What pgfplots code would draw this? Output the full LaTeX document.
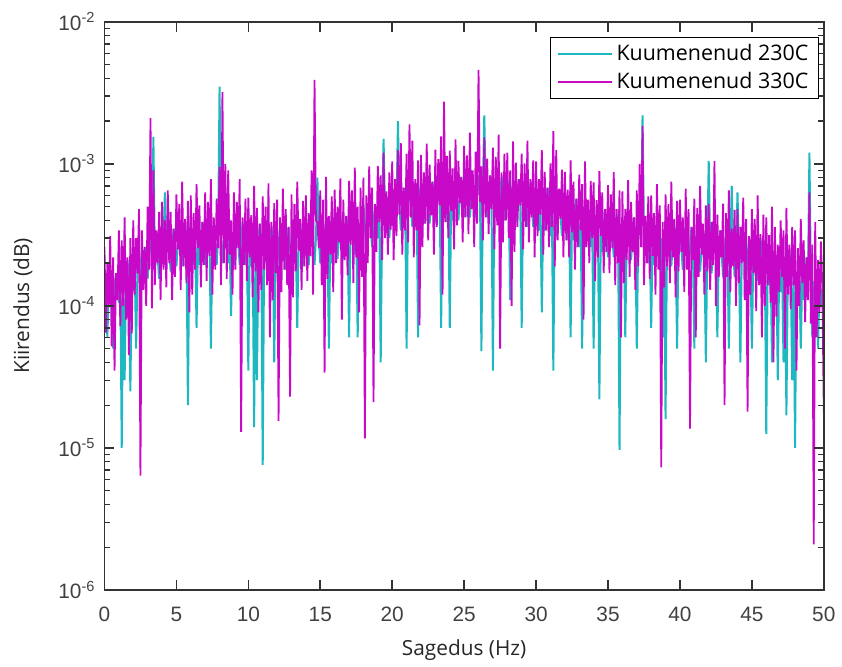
\documentclass[border=0pt]{standalone}
\usepackage{fontspec}
\setmainfont{Open Sans}
\newfontfamily\arialfont{Liberation Sans}
\usepackage{pgfplots}
\usepackage{pgfplotstable}
\pgfplotsset{compat=1.18}
\definecolor{cy}{RGB}{30,185,192}
\definecolor{mg}{RGB}{200,10,200}
\definecolor{axgray}{RGB}{70,70,70}

% Kuumenenud 330C (magenta), step 0.1 Hz
\pgfplotstableread{
x y
0.0 2.6e-4
0.1 0.65e-4
0.2 2.0e-4
0.3 0.98e-4
0.4 3.1e-4
0.5 0.52e-4
0.6 2.2e-4
0.7 0.35e-4
0.8 1.7e-4
0.9 1.1e-4
1.0 3.4e-4
1.1 0.72e-4
1.2 2.9e-4
1.3 1.0e-4
1.4 4.2e-4
1.5 0.8e-4
1.6 2.2e-4
1.7 0.45e-4
1.8 3.0e-4
1.9 0.64e-4
2.0 4.0e-4
2.1 1.2e-4
2.2 3.0e-4
2.3 1.7e-4
2.4 4.8e-4
2.5 0.064e-4
2.6 3.4e-4
2.7 1.3e-4
2.8 2.6e-4
2.9 1.0e-4
3.0 5.0e-4
3.1 1.8e-4
3.2 21e-4
3.3 0.96e-4
3.4 9.0e-4
3.5 1.4e-4
3.6 3.4e-4
3.7 2.0e-4
3.8 4.6e-4
3.9 1.1e-4
4.0 5.4e-4
4.1 1.8e-4
4.2 4.0e-4
4.3 1.35e-4
4.4 6.5e-4
4.5 2.0e-4
4.6 4.6e-4
4.7 1.1e-4
4.8 3.5e-4
4.9 1.6e-4
5.0 6.1e-4
5.1 2.5e-4
5.2 5.2e-4
5.3 1.3e-4
5.4 7.5e-4
5.5 1.9e-4
5.6 4.1e-4
5.7 1.45e-4
5.8 5.5e-4
5.9 0.9e-4
6.0 6.0e-4
6.1 1.2e-4
6.2 4.5e-4
6.3 1.8e-4
6.4 7.2e-4
6.5 2.55e-4
6.6 5.1e-4
6.7 1.35e-4
6.8 3.9e-4
6.9 1.95e-4
7.0 6.3e-4
7.1 1.5e-4
7.2 5.4e-4
7.3 2.25e-4
7.4 7.8e-4
7.5 1.2e-4
7.6 4.2e-4
7.7 1.8e-4
7.8 5.7e-4
7.9 2.55e-4
8.0 9.5e-4
8.1 1.4e-4
8.2 32e-4
8.3 2.0e-4
8.4 10e-4
8.5 1.55e-4
8.6 9.0e-4
8.7 2.3e-4
8.8 4.0e-4
8.9 1.2e-4
9.0 6.3e-4
9.1 1.8e-4
9.2 5.4e-4
9.3 2.55e-4
9.4 7.8e-4
9.5 0.13e-4
9.6 4.2e-4
9.7 1.95e-4
9.8 5.7e-4
9.9 1.5e-4
10.0 5.8e-4
10.1 2.2e-4
10.2 4.35e-4
10.3 1.15e-4
10.4 7.0e-4
10.5 1.75e-4
10.6 4.9e-4
10.7 0.9e-4
10.8 3.8e-4
10.9 1.3e-4
11.0 5.9e-4
11.1 1.8e-4
11.2 5.0e-4
11.3 1.4e-4
11.4 7.3e-4
11.5 0.6e-4
11.6 3.9e-4
11.7 1.1e-4
11.8 5.3e-4
11.9 1.7e-4
12.0 5.6e-4
12.1 0.155e-4
12.2 4.2e-4
12.3 1.25e-4
12.4 6.7e-4
12.5 1.8e-4
12.6 4.8e-4
12.7 1.4e-4
12.8 3.6e-4
12.9 0.23e-4
13.0 6.1e-4
13.1 1.15e-4
13.2 5.2e-4
13.3 1.75e-4
13.4 7.5e-4
13.5 2.45e-4
13.6 4.1e-4
13.7 1.3e-4
13.8 5.5e-4
13.9 1.9e-4
14.0 6.0e-4
14.1 1.5e-4
14.2 4.5e-4
14.3 2.25e-4
14.4 9.0e-4
14.5 1.2e-4
14.6 39e-4
14.7 4.0e-4
14.8 3.9e-4
14.9 2.55e-4
15.0 6.5e-4
15.1 1.4e-4
15.2 5.6e-4
15.3 0.34e-4
15.4 8.1e-4
15.5 1.55e-4
15.6 4.3e-4
15.7 2.3e-4
15.8 5.9e-4
15.9 1.25e-4
16.0 6.6e-4
16.1 2.0e-4
16.2 5.0e-4
16.3 2.8e-4
16.4 7.9e-4
16.5 0.8e-4
16.6 5.6e-4
16.7 2.1e-4
16.8 4.3e-4
16.9 1.65e-4
17.0 7.6e-4
17.1 2.7e-4
17.2 6.5e-4
17.3 1.45e-4
17.4 9.4e-4
17.5 2.2e-4
17.6 5.0e-4
17.7 0.9e-4
17.8 6.8e-4
17.9 1.6e-4
18.0 8.0e-4
18.1 0.117e-4
18.2 6.0e-4
18.3 2.0e-4
18.4 9.6e-4
18.5 3.0e-4
18.6 6.8e-4
18.7 0.21e-4
18.8 5.2e-4
18.9 2.4e-4
19.0 9.7e-4
19.1 3.9e-4
19.2 8.3e-4
19.3 2.1e-4
19.4 12e-4
19.5 3.0e-4
19.6 6.4e-4
19.7 2.3e-4
19.8 8.7e-4
19.9 3.45e-4
20.0 10.4e-4
20.1 2.1e-4
20.2 7.8e-4
20.3 3.1e-4
20.4 12.5e-4
20.5 4.4e-4
20.6 14e-4
20.7 2.3e-4
20.8 6.8e-4
20.9 3.4e-4
21.0 11.8e-4
21.1 2.8e-4
21.2 19e-4
21.3 4.2e-4
21.4 14.6e-4
21.5 2.2e-4
21.6 7.8e-4
21.7 3.4e-4
21.8 10.6e-4
21.9 0.73e-4
22.0 11.6e-4
22.1 2.6e-4
22.2 8.7e-4
22.3 3.8e-4
22.4 13.9e-4
22.5 2.9e-4
22.6 9.9e-4
22.7 4.35e-4
22.8 7.5e-4
22.9 2.3e-4
23.0 12.6e-4
23.1 3.6e-4
23.2 10.8e-4
23.3 5.1e-4
23.4 15.6e-4
23.5 1.2e-4
23.6 27.5e-4
23.7 3.9e-4
23.8 11.4e-4
23.9 3.0e-4
24.0 12.4e-4
24.1 4.65e-4
24.2 9.3e-4
24.3 2.5e-4
24.4 14.9e-4
24.5 3.7e-4
24.6 10.5e-4
24.7 5.3e-4
24.8 8.1e-4
24.9 2.8e-4
25.0 13.4e-4
25.1 4.2e-4
25.2 11.5e-4
25.3 3.2e-4
25.4 16.6e-4
25.5 4.8e-4
25.6 9.0e-4
25.7 2.6e-4
25.8 12.2e-4
25.9 3.8e-4
26.0 46e-4
26.1 5.4e-4
26.2 9.6e-4
26.3 2.9e-4
26.4 15.4e-4
26.5 4.2e-4
26.6 10.9e-4
26.7 3.2e-4
26.8 8.3e-4
26.9 4.8e-4
27.0 13.0e-4
27.1 2.5e-4
27.2 11.2e-4
27.3 3.7e-4
27.4 16.1e-4
27.5 0.5e-4
27.6 8.7e-4
27.7 2.8e-4
27.8 11.8e-4
27.9 4.0e-4
28.0 12.0e-4
28.1 3.0e-4
28.2 9.0e-4
28.3 1.0e-4
28.4 14.4e-4
28.5 2.4e-4
28.6 10.2e-4
28.7 3.6e-4
28.8 7.8e-4
28.9 5.1e-4
29.0 11.8e-4
29.1 2.5e-4
29.2 10.1e-4
29.3 3.6e-4
29.4 14.6e-4
29.5 2.8e-4
29.6 7.8e-4
29.7 4.2e-4
29.8 10.6e-4
29.9 2.2e-4
30.0 10.4e-4
30.1 3.1e-4
30.2 7.8e-4
30.3 4.4e-4
30.4 12.5e-4
30.5 2.3e-4
30.6 8.8e-4
30.7 3.4e-4
30.8 6.8e-4
30.9 2.6e-4
31.0 10.1e-4
31.1 3.6e-4
31.2 17e-4
31.3 1.9e-4
31.4 12.5e-4
31.5 2.9e-4
31.6 6.7e-4
31.7 4.1e-4
31.8 9.1e-4
31.9 2.2e-4
32.0 8.8e-4
32.1 2.9e-4
32.2 6.6e-4
32.3 2.2e-4
32.4 10.6e-4
32.5 3.3e-4
32.6 7.5e-4
32.7 1.8e-4
32.8 5.7e-4
32.9 2.6e-4
33.0 8.4e-4
33.1 3.4e-4
33.2 7.2e-4
33.3 0.8e-4
33.4 10.4e-4
33.5 2.6e-4
33.6 5.6e-4
33.7 2.0e-4
33.8 7.6e-4
33.9 3.0e-4
34.0 7.4e-4
34.1 1.5e-4
34.2 5.55e-4
34.3 2.2e-4
34.4 8.9e-4
34.5 3.1e-4
34.6 6.3e-4
34.7 1.7e-4
34.8 4.8e-4
34.9 2.4e-4
35.0 7.1e-4
35.1 1.7e-4
35.2 6.1e-4
35.3 2.55e-4
35.4 8.8e-4
35.5 1.4e-4
35.6 4.8e-4
35.7 2.0e-4
35.8 6.5e-4
35.9 0.6e-4
36.0 6.4e-4
36.1 1.45e-4
36.2 4.8e-4
36.3 2.1e-4
36.4 7.7e-4
36.5 1.6e-4
36.6 5.4e-4
36.7 2.4e-4
36.8 4.2e-4
36.9 1.3e-4
37.0 6.5e-4
37.1 1.9e-4
37.2 10e-4
37.3 2.6e-4
37.4 18.5e-4
37.5 1.4e-4
37.6 4.3e-4
37.7 2.0e-4
37.8 5.9e-4
37.9 1.55e-4
38.0 6.0e-4
38.1 2.25e-4
38.2 4.5e-4
38.3 1.2e-4
38.4 7.2e-4
38.5 1.8e-4
38.6 5.1e-4
38.7 0.073e-4
38.8 3.9e-4
38.9 1.35e-4
39.0 6.1e-4
39.1 1.9e-4
39.2 5.2e-4
39.3 1.45e-4
39.4 7.5e-4
39.5 2.2e-4
39.6 4.1e-4
39.7 1.15e-4
39.8 5.5e-4
39.9 1.75e-4
40.0 5.6e-4
40.1 2.4e-4
40.2 4.2e-4
40.3 1.25e-4
40.4 6.7e-4
40.5 1.8e-4
40.6 4.8e-4
40.7 0.137e-4
40.8 3.6e-4
40.9 2.1e-4
41.0 5.7e-4
41.1 0.6e-4
41.2 4.9e-4
41.3 1.6e-4
41.4 7.0e-4
41.5 2.3e-4
41.6 3.8e-4
41.7 1.2e-4
41.8 5.1e-4
41.9 1.75e-4
42.0 5.2e-4
42.1 1.3e-4
42.2 3.9e-4
42.3 1.95e-4
42.4 10.5e-4
42.5 1.0e-4
42.6 4.4e-4
42.7 1.6e-4
42.8 3.4e-4
42.9 2.2e-4
43.0 5.25e-4
43.1 0.2e-4
43.2 4.5e-4
43.3 1.6e-4
43.4 6.5e-4
43.5 1.25e-4
43.6 3.5e-4
43.7 1.9e-4
43.8 4.75e-4
43.9 1.0e-4
44.0 4.8e-4
44.1 1.45e-4
44.2 3.6e-4
44.3 2.0e-4
44.4 5.8e-4
44.5 1.1e-4
44.6 4.1e-4
44.7 0.18e-4
44.8 3.1e-4
44.9 1.2e-4
45.0 4.8e-4
45.1 1.7e-4
45.2 4.1e-4
45.3 0.92e-4
45.4 6.0e-4
45.5 1.4e-4
45.6 3.2e-4
45.7 0.6e-4
45.8 4.4e-4
45.9 1.0e-4
46.0 4.2e-4
46.1 1.4e-4
46.2 3.15e-4
46.3 1.05e-4
46.4 5.0e-4
46.5 0.4e-4
46.6 3.6e-4
46.7 0.84e-4
46.8 2.7e-4
46.9 1.25e-4
47.0 4.0e-4
47.1 1.6e-4
47.2 3.4e-4
47.3 0.5e-4
47.4 4.9e-4
47.5 1.2e-4
47.6 2.7e-4
47.7 0.95e-4
47.8 3.6e-4
47.9 1.4e-4
48.0 3.4e-4
48.1 0.35e-4
48.2 2.55e-4
48.3 1.0e-4
48.4 4.1e-4
48.5 1.45e-4
48.6 2.9e-4
48.7 0.77e-4
48.8 2.2e-4
48.9 1.1e-4
49.0 6.3e-4
49.1 0.75e-4
49.2 2.7e-4
49.3 0.021e-4
49.4 3.9e-4
49.5 0.6e-4
49.6 2.1e-4
49.7 0.9e-4
49.8 2.85e-4
49.9 1.3e-4
50.0 0.18e-4
}\magdata

% Kuumenenud 230C (cyan)
\pgfplotstableread{
x y
0.0 1.7e-4
0.1 1.3e-4
0.2 0.6e-4
0.3 1.3e-4
0.4 1.7e-4
0.5 1.3e-4
0.6 0.5e-4
0.7 1.3e-4
0.8 1.7e-4
1.0 1.05e-4
1.1 1.6e-4
1.2 0.1e-4
1.3 1.6e-4
1.4 0.3e-4
1.5 1.6e-4
1.6 2.1e-4
1.7 1.6e-4
1.8 0.25e-4
1.9 1.6e-4
2.0 2.6e-4
2.1 2.0e-4
2.2 0.5e-4
2.3 2.0e-4
2.4 2.6e-4
2.6 1.3e-4
2.8 2.6e-4
3.0 1.55e-4
3.2 3.1e-4
3.3 2.4e-4
3.4 15.5e-4
3.5 2.4e-4
3.6 3.1e-4
3.8 1.55e-4
4.0 3.5e-4
4.1 2.7e-4
4.2 6.3e-4
4.3 2.7e-4
4.4 3.5e-4
4.6 1.75e-4
4.8 3.5e-4
5.0 1.9e-4
5.2 3.8e-4
5.4 1.9e-4
5.6 3.8e-4
5.7 2.9e-4
5.8 0.2e-4
5.9 2.9e-4
6.0 3.9e-4
6.2 1.95e-4
6.3 3.0e-4
6.4 0.7e-4
6.5 3.0e-4
6.6 1.95e-4
6.8 3.9e-4
7.0 1.95e-4
7.2 3.9e-4
7.3 3.0e-4
7.4 0.5e-4
7.5 3.0e-4
7.6 3.9e-4
7.8 1.95e-4
7.9 3.1e-4
8.0 35e-4
8.1 3.1e-4
8.2 2.0e-4
8.4 4.0e-4
8.6 2.0e-4
8.7 3.1e-4
8.8 0.85e-4
8.9 3.0e-4
9.0 1.95e-4
9.2 3.9e-4
9.4 1.95e-4
9.6 3.9e-4
9.8 1.95e-4
9.9 2.9e-4
10.0 0.35e-4
10.1 2.9e-4
10.2 1.9e-4
10.3 2.9e-4
10.4 0.14e-4
10.5 2.9e-4
10.6 0.3e-4
10.7 2.9e-4
10.8 3.8e-4
10.9 2.8e-4
11.0 0.076e-4
11.1 2.8e-4
11.2 3.6e-4
11.4 1.8e-4
11.6 3.6e-4
11.7 2.8e-4
11.8 0.4e-4
11.9 2.8e-4
12.0 3.6e-4
12.2 1.8e-4
12.4 3.6e-4
12.6 1.8e-4
12.8 3.6e-4
13.0 1.9e-4
13.2 3.8e-4
13.3 2.9e-4
13.4 0.7e-4
13.5 2.9e-4
13.6 3.8e-4
13.8 1.9e-4
14.0 3.9e-4
14.2 1.95e-4
14.4 3.9e-4
14.6 1.95e-4
14.7 3.0e-4
14.8 8.0e-4
14.9 3.0e-4
15.0 2.0e-4
15.2 4.0e-4
15.4 2.0e-4
15.5 3.1e-4
15.6 0.5e-4
15.7 3.1e-4
15.8 2.0e-4
16.0 4.3e-4
16.2 2.15e-4
16.4 4.3e-4
16.6 2.15e-4
16.8 4.3e-4
16.9 3.6e-4
17.0 0.6e-4
17.1 3.6e-4
17.2 4.7e-4
17.4 2.3e-4
17.5 3.6e-4
17.6 0.6e-4
17.7 3.6e-4
17.8 2.3e-4
18.0 5.2e-4
18.2 2.6e-4
18.4 5.2e-4
18.6 2.6e-4
18.8 5.2e-4
19.0 3.0e-4
19.1 4.6e-4
19.2 0.4e-4
19.3 4.6e-4
19.4 15e-4
19.5 4.6e-4
19.6 6.0e-4
19.8 3.0e-4
20.0 6.8e-4
20.2 3.4e-4
20.3 5.2e-4
20.4 20e-4
20.5 5.2e-4
20.6 3.4e-4
20.8 6.8e-4
20.9 5.6e-4
21.0 0.5e-4
21.1 5.6e-4
21.2 7.3e-4
21.4 3.6e-4
21.6 7.3e-4
21.7 5.6e-4
21.8 0.6e-4
21.9 5.8e-4
22.0 7.5e-4
22.2 3.8e-4
22.4 7.5e-4
22.6 3.8e-4
22.8 7.5e-4
23.0 3.9e-4
23.2 7.8e-4
23.3 6.0e-4
23.4 0.7e-4
23.5 6.0e-4
23.6 7.8e-4
23.8 3.9e-4
23.9 6.2e-4
24.0 0.7e-4
24.1 6.2e-4
24.2 4.0e-4
24.4 8.1e-4
24.6 4.0e-4
24.8 8.1e-4
25.0 4.2e-4
25.2 8.3e-4
25.4 4.2e-4
25.6 8.3e-4
25.8 4.2e-4
26.0 8.3e-4
26.1 6.4e-4
26.2 0.48e-4
26.3 6.4e-4
26.4 22e-4
26.5 6.4e-4
26.6 4.2e-4
26.8 8.3e-4
26.9 6.2e-4
27.0 0.35e-4
27.1 6.2e-4
27.2 8.1e-4
27.4 4.0e-4
27.6 8.1e-4
27.8 4.0e-4
28.0 7.8e-4
28.1 6.0e-4
28.2 1.1e-4
28.3 6.0e-4
28.4 7.8e-4
28.6 3.9e-4
28.8 7.8e-4
28.9 5.6e-4
29.0 0.7e-4
29.1 5.6e-4
29.2 7.3e-4
29.4 3.6e-4
29.6 7.3e-4
29.8 3.6e-4
30.0 6.8e-4
30.2 3.4e-4
30.3 5.2e-4
30.4 0.9e-4
30.5 5.2e-4
30.6 3.4e-4
30.8 6.8e-4
31.0 3.1e-4
31.1 4.8e-4
31.2 0.35e-4
31.3 4.8e-4
31.4 3.1e-4
31.6 6.2e-4
31.8 3.1e-4
32.0 5.7e-4
32.2 2.9e-4
32.3 4.4e-4
32.4 0.6e-4
32.5 4.4e-4
32.6 2.9e-4
32.8 5.7e-4
33.0 2.6e-4
33.1 4.0e-4
33.2 0.5e-4
33.3 4.0e-4
33.4 2.6e-4
33.6 5.2e-4
33.8 2.6e-4
33.9 3.7e-4
34.0 0.5e-4
34.1 3.7e-4
34.2 2.4e-4
34.3 3.7e-4
34.4 0.22e-4
34.5 3.7e-4
34.6 2.4e-4
34.8 4.8e-4
35.0 2.2e-4
35.2 4.4e-4
35.4 2.2e-4
35.6 4.4e-4
35.7 3.4e-4
35.8 0.097e-4
35.9 3.4e-4
36.0 4.2e-4
36.1 3.2e-4
36.2 0.6e-4
36.3 3.2e-4
36.4 4.2e-4
36.6 2.1e-4
36.8 4.2e-4
36.9 3.1e-4
37.0 0.5e-4
37.1 3.1e-4
37.2 4.0e-4
37.3 3.1e-4
37.4 22e-4
37.5 3.1e-4
37.6 4.0e-4
37.8 2.0e-4
37.9 3.0e-4
38.0 0.7e-4
38.1 3.0e-4
38.2 1.95e-4
38.4 3.9e-4
38.6 1.95e-4
38.7 3.0e-4
38.8 0.6e-4
38.9 2.9e-4
39.0 0.16e-4
39.1 2.9e-4
39.2 3.8e-4
39.4 1.9e-4
39.6 3.8e-4
39.7 2.9e-4
39.8 0.5e-4
39.9 2.8e-4
40.0 3.6e-4
40.2 1.8e-4
40.4 3.6e-4
40.6 1.8e-4
40.8 3.6e-4
40.9 2.7e-4
41.0 0.5e-4
41.1 2.7e-4
41.2 3.5e-4
41.4 1.75e-4
41.6 3.5e-4
41.7 2.7e-4
41.8 0.4e-4
41.9 2.6e-4
42.0 10.5e-4
42.1 2.6e-4
42.2 1.7e-4
42.4 3.4e-4
42.5 2.6e-4
42.6 0.6e-4
42.7 2.6e-4
42.8 3.4e-4
43.0 1.6e-4
43.2 3.25e-4
43.3 2.5e-4
43.4 0.5e-4
43.5 2.5e-4
43.6 7.0e-4
43.7 2.5e-4
43.8 1.6e-4
43.9 2.4e-4
44.0 6.3e-4
44.1 2.4e-4
44.2 0.4e-4
44.3 2.4e-4
44.4 3.1e-4
44.6 1.55e-4
44.8 3.1e-4
44.9 2.3e-4
45.0 0.5e-4
45.1 2.3e-4
45.2 3.0e-4
45.4 1.5e-4
45.6 3.0e-4
45.8 1.5e-4
45.9 2.1e-4
46.0 0.125e-4
46.1 2.1e-4
46.2 1.4e-4
46.3 2.1e-4
46.4 0.4e-4
46.5 2.1e-4
46.6 1.4e-4
46.7 2.1e-4
46.8 0.3e-4
46.9 1.9e-4
47.0 1.25e-4
47.1 1.9e-4
47.2 0.4e-4
47.3 1.9e-4
47.4 0.17e-4
47.5 1.9e-4
47.6 2.5e-4
47.7 1.9e-4
47.8 0.3e-4
47.9 1.7e-4
48.0 0.1e-4
48.1 1.7e-4
48.2 1.1e-4
48.3 1.7e-4
48.4 0.5e-4
48.5 1.7e-4
48.6 1.1e-4
48.8 2.2e-4
48.9 1.5e-4
49.0 12e-4
49.1 1.5e-4
49.2 0.6e-4
49.3 1.5e-4
49.4 1.0e-4
49.5 1.5e-4
49.6 0.5e-4
49.7 1.5e-4
49.8 1.0e-4
49.9 1.3e-4
50.0 0.6e-4
}\cyandata

\begin{document}
\begin{tikzpicture}
\begin{axis}[
  name=ax,
  width=361.5bp, height=285.5bp, scale only axis,
  ymode=log,
  xmin=0, xmax=50, ymin=1e-6, ymax=1e-2,
  xtick={0,5,...,50},
  log number format basis/.code 2 args={#1\textsuperscript{\pgfmathprintnumber{#2}}},
  /pgf/number format/assume math mode=true,
  tick align=inside,
  major tick length=5bp, minor tick length=3bp,
  axis on top,
  axis line style={black!80, line width=0.7bp},
  every tick/.append style={black!80, line width=0.8bp},
  every minor tick/.append style={black!80, line width=0.7bp},
  tick label style={font=\arialfont\fontsize{10.5}{12}\selectfont, text=black!75},
  xticklabel style={yshift=-5bp},
  yticklabel style={xshift=-1bp},
  xlabel={Sagedus (Hz)},
  label style={font=\fontsize{10.5}{12}\selectfont, text=black!85},
  xlabel style={at={(axis description cs:0.5,0)}, anchor=center, yshift=-30bp},
  legend style={at={(axis description cs:0.993,0.974)}, anchor=north east,
    draw=black, line width=0.6bp, font=\fontsize{10.8}{13}\selectfont,
    inner xsep=3bp, inner ysep=1.5bp, row sep=0.5bp, cells={anchor=west}},
  legend image code/.code={\draw[#1, line width=1.2bp] (0bp,0bp) -- (20bp,0bp); \path (-2bp,0bp) -- (25bp,0bp);},
]
\addplot[cy, line width=1.0bp] table[x=x, y=y] {\cyandata};
\addlegendentry{Kuumenenud 230C}
\addplot[mg, line width=0.9bp] table[x=x, y=y] {\magdata};
\addlegendentry{Kuumenenud 330C}
\end{axis}
\node[rotate=90, font=\fontsize{10.5}{12}\selectfont, text=black!85] at ([xshift=-41bp]ax.west) {Kiirendus (dB)};
\path ([xshift=-52.5bp, yshift=-34bp]ax.south west) rectangle ([xshift=7bp, yshift=11bp]ax.north east);
\end{tikzpicture}
\end{document}
